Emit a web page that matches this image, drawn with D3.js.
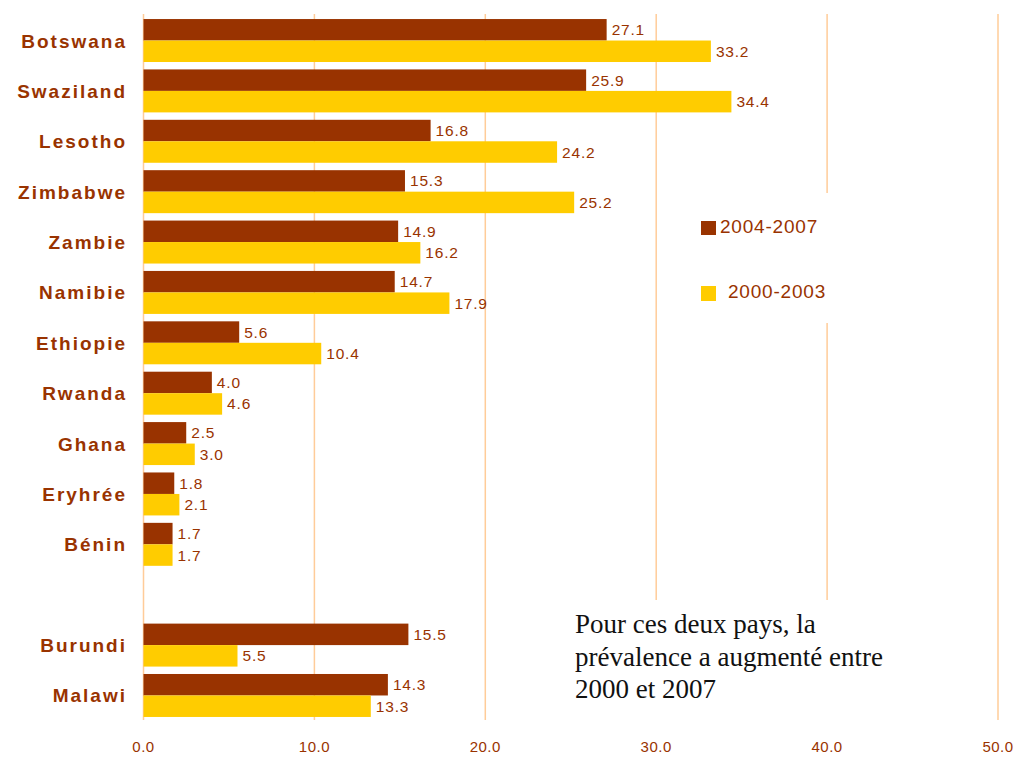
<!DOCTYPE html>
<html>
<head>
<meta charset="utf-8">
<title>Prévalence</title>
<script src="https://d3js.org/d3.v7.min.js"></script>
<style>
  body { margin: 0; background: #fff; }
  svg { display: block; }
  .cat { font-family: Arial, "Liberation Sans", sans-serif; font-weight: bold; font-size: 19px; letter-spacing: 2px; fill: #993300; }
  .val { font-family: Arial, "Liberation Sans", sans-serif; font-size: 15.5px; letter-spacing: 0.8px; fill: #993300; }
  .tick { font-family: Arial, "Liberation Sans", sans-serif; font-size: 15px; letter-spacing: 0.5px; fill: #993300; }
  .leg { font-family: Arial, "Liberation Sans", sans-serif; font-size: 19px; letter-spacing: 0.8px; fill: #993300; }
  .note { font-family: "Times New Roman", "Liberation Serif", serif; font-size: 27px; fill: #111; }
</style>
</head>
<body>
<svg width="1020" height="757"></svg>
<script>
// data ("" = the empty row between Bénin and Burundi)
var countries = ["Botswana", "Swaziland", "Lesotho", "Zimbabwe", "Zambie", "Namibie", "Ethiopie",
                 "Rwanda", "Ghana", "Eryhrée", "Bénin", "", "Burundi", "Malawi"];
var v2004_2007 = [27.1, 25.9, 16.8, 15.3, 14.9, 14.7, 5.6, 4.0, 2.5, 1.8, 1.7, null, 15.5, 14.3];
var v2000_2003 = [33.2, 34.4, 24.2, 25.2, 16.2, 17.9, 10.4, 4.6, 3.0, 2.1, 1.7, null, 5.5, 13.3];
var series = ["2004-2007", "2000-2003"];
var colors = ["#993300", "#FFCC00"];
var xTicks = [0, 10, 20, 30, 40, 50];
var note = ["Pour ces deux pays, la", "prévalence a augmenté entre", "2000 et 2007"];

var svg = d3.select("svg");

var x = d3.scaleLinear().domain([0, 50]).range([143.5, 998]);
var y = d3.scaleBand().domain(countries).range([14, 722]).paddingInner(0.147).paddingOuter(0.1);
var ySub = d3.scaleBand().domain(series).range([0, y.bandwidth()]);

// vertical grid lines
svg.append("g").selectAll("line")
  .data(xTicks)
  .enter().append("line")
    .attr("x1", function(d) { return x(d); })
    .attr("x2", function(d) { return x(d); })
    .attr("y1", 14)
    .attr("y2", 720)
    .attr("stroke", "#FFCC99")
    .attr("stroke-width", 1.5);

// tick labels
svg.append("g").selectAll("text")
  .data(xTicks)
  .enter().append("text")
    .attr("class", "tick")
    .attr("x", function(d) { return x(d); })
    .attr("y", 752)
    .attr("text-anchor", "middle")
    .text(function(d) { return d3.format(".1f")(d); });

// rows
var rows = countries.map(function(c, i) {
  return { name: c, vals: [v2004_2007[i], v2000_2003[i]] };
});

var row = svg.append("g").selectAll("g")
  .data(rows)
  .enter().append("g")
    .attr("transform", function(d) { return "translate(0," + y(d.name) + ")"; });

row.append("text")
  .attr("class", "cat")
  .attr("x", 127)
  .attr("y", y.bandwidth() / 2 + 7)
  .attr("text-anchor", "end")
  .text(function(d) { return d.name; });

row.each(function(d) {
  var g = d3.select(this);
  series.forEach(function(s, j) {
    var v = d.vals[j];
    if (v == null) return;
    g.append("rect")
      .attr("x", x(0))
      .attr("y", ySub(s))
      .attr("width", x(v) - x(0))
      .attr("height", ySub.bandwidth())
      .attr("fill", colors[j]);
    g.append("text")
      .attr("class", "val")
      .attr("x", x(v) + 5)
      .attr("y", ySub(s) + ySub.bandwidth() / 2 + 5.5)
      .text(d3.format(".1f")(v));
  });
});

// legend (white box hides the grid line behind it)
svg.append("rect").attr("x", 690).attr("y", 193).attr("width", 170).attr("height", 130).attr("fill", "#fff");
svg.append("rect").attr("x", 701).attr("y", 221).attr("width", 15).attr("height", 14).attr("fill", colors[0]);
svg.append("text").attr("class", "leg").attr("x", 720).attr("y", 233).text(series[0]);
svg.append("rect").attr("x", 701).attr("y", 286).attr("width", 15).attr("height", 15).attr("fill", colors[1]);
svg.append("text").attr("class", "leg").attr("x", 728).attr("y", 298).text(series[1]);

// note box
svg.append("rect").attr("x", 566).attr("y", 600).attr("width", 340).attr("height", 125).attr("fill", "#fff");
svg.append("text").attr("class", "note")
  .selectAll("tspan")
  .data(note)
  .enter().append("tspan")
    .attr("x", 575)
    .attr("y", function(d, i) { return 633 + i * 32.5; })
    .text(function(d) { return d; });
</script>
</body>
</html>
